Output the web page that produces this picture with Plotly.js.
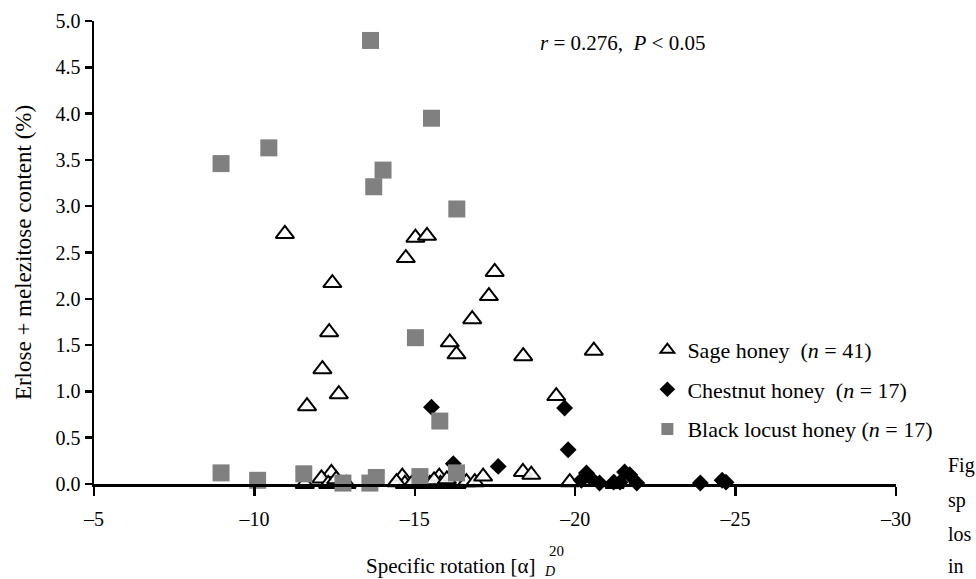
<!DOCTYPE html>
<html>
<head>
<meta charset="utf-8">
<script src="https://cdn.plot.ly/plotly-3.0.1.min.js"></script>
<style>html,body{margin:0;padding:0;background:#fff;}#chart{width:976px;height:579px;}</style>
</head>
<body>
<div id="chart"></div>
<script>
// Sage honey (open triangles)
const sageX = [-10.95, -15.02, -15.38, -14.72, -17.49, -12.43, -17.31, -12.33, -16.79, -16.09,
               -16.30, -18.38, -20.58, -12.12, -12.63, -11.64, -19.41,
               -12.40, -12.09, -11.57, -12.30, -12.87, -14.61, -14.69, -15.47, -15.76,
               -15.80, -16.30, -16.61, -16.87, -17.13, -14.43, -18.37, -18.63, -19.83,
               -21.23, -12.55, -15.00, -15.60, -16.00, -14.90];
const sageY = [2.70, 2.66, 2.68, 2.44, 2.29, 2.17, 2.03, 1.64, 1.78, 1.53,
               1.40, 1.38, 1.44, 1.24, 0.97, 0.84, 0.95,
               0.12, 0.06, 0.00, 0.00, 0.00, 0.08, 0.00, 0.00, 0.08,
               0.00, 0.00, 0.02, 0.02, 0.08, 0.02, 0.13, 0.10, 0.02,
               0.00, 0.05, 0.02, 0.04, 0.05, 0.00];
// Chestnut honey (black diamonds)
const chestX = [-15.52, -19.67, -19.78, -16.20, -17.60, -20.35, -20.19, -20.76, -21.54,
                -21.40, -21.92, -23.90, -24.58, -20.50, -21.20, -21.70, -24.70];
const chestY = [0.83, 0.82, 0.37, 0.22, 0.19, 0.12, 0.04, 0.01, 0.13,
                0.02, 0.01, 0.01, 0.04, 0.06, 0.02, 0.10, 0.02];
// Black locust honey (grey squares)
const locustX = [-13.62, -8.96, -10.45, -14.01, -13.72, -15.52, -16.31, -15.02, -15.78,
                 -8.96, -10.10, -11.54, -12.76, -13.60, -13.80, -15.16, -16.30];
const locustY = [4.79, 3.46, 3.63, 3.39, 3.21, 3.95, 2.97, 1.58, 0.68,
                 0.12, 0.04, 0.11, 0.01, 0.01, 0.07, 0.08, 0.12];

const xTicks = [-5, -10, -15, -20, -25, -30];
const xTickText = ['\u20135', '\u201310', '\u201315', '\u201320', '\u201325', '\u201330'];
const yTicks = [0, 0.5, 1, 1.5, 2, 2.5, 3, 3.5, 4, 4.5, 5];

const serif = 'Liberation Serif, DejaVu Serif, serif';

const traces = [
  {x: sageX, y: sageY, type: 'scatter', mode: 'markers', name: 'Sage honey  (<i>n</i> = 41)',
   legendgroup: 'a', cliponaxis: false,
   marker: {symbol: 'triangle-up', size: 16, color: 'rgba(255,255,255,0.9)', line: {color: '#000', width: 2}}},
  {x: chestX, y: chestY, type: 'scatter', mode: 'markers', name: 'Chestnut honey  (<i>n</i> = 17)',
   legendgroup: 'b', cliponaxis: false,
   marker: {symbol: 'diamond', size: 13, color: '#000', line: {width: 0}}},
  {x: locustX, y: locustY, type: 'scatter', mode: 'markers', name: 'Black locust honey (<i>n</i> = 17)',
   legendgroup: 'c', cliponaxis: false,
   marker: {symbol: 'square', size: 17, color: '#808080', line: {width: 0}}}
];

const layout = {
  width: 976, height: 579,
  margin: {l: 94, r: 80, t: 21, b: 95},
  paper_bgcolor: '#fff', plot_bgcolor: '#fff',
  font: {family: serif, size: 19, color: '#000'},
  showlegend: true,
  legend: {x: 0.69, y: 0.335, xanchor: 'left', yanchor: 'top', bgcolor: 'rgba(0,0,0,0)',
           font: {family: serif, size: 22, color: '#000'}, traceorder: 'grouped',
           tracegroupgap: 8, itemsizing: 'constant', itemwidth: 30},
  xaxis: {range: [-5, -30], tickvals: xTicks, ticktext: xTickText, showgrid: false, zeroline: false,
          showline: true, linecolor: '#000', linewidth: 2.5, ticks: 'outside', ticklen: 9,
          tickwidth: 2.5, tickcolor: '#000', tickfont: {family: serif, size: 20},
          ticklabelstandoff: 6, fixedrange: true},
  yaxis: {range: [0, 5], tickvals: yTicks, tickformat: '.1f', showgrid: false, zeroline: false,
          showline: true, linecolor: '#000', linewidth: 2.5, ticks: 'outside', ticklen: 7,
          tickwidth: 2.5, tickcolor: '#000', tickfont: {family: serif, size: 20},
          title: {text: 'Erlose + melezitose content (%)', font: {family: serif, size: 23}, standoff: 18}},
  annotations: [
    {xref: 'paper', yref: 'paper', x: (538 - 94) / 802, y: 0.952, xanchor: 'left', yanchor: 'middle', showarrow: false,
     text: '<i>r</i> = 0.276,  <i>P</i> < 0.05', font: {family: serif, size: 21}},
    {xref: 'paper', yref: 'paper', x: (451 - 94) / 802, y: -0.177, xanchor: 'center', yanchor: 'middle', showarrow: false,
     text: 'Specific rotation [α]', font: {family: serif, size: 21}},
    {xref: 'paper', yref: 'paper', x: (556 - 94) / 802, y: -0.145, xanchor: 'center', yanchor: 'middle', showarrow: false,
     text: '20', font: {family: serif, size: 15}},
    {xref: 'paper', yref: 'paper', x: (549 - 94) / 802, y: -0.19, xanchor: 'center', yanchor: 'middle', showarrow: false,
     text: '<i>D</i>', font: {family: serif, size: 14}},
    {xref: 'paper', yref: 'paper', x: (946 - 94) / 802, y: (484 - 465) / 463, xanchor: 'left', yanchor: 'middle', showarrow: false,
     text: 'Fig', font: {family: serif, size: 20}},
    {xref: 'paper', yref: 'paper', x: (946 - 94) / 802, y: (484 - 500) / 463, xanchor: 'left', yanchor: 'middle', showarrow: false,
     text: 'sp', font: {family: serif, size: 20}},
    {xref: 'paper', yref: 'paper', x: (946 - 94) / 802, y: (484 - 534) / 463, xanchor: 'left', yanchor: 'middle', showarrow: false,
     text: 'los', font: {family: serif, size: 20}},
    {xref: 'paper', yref: 'paper', x: (946 - 94) / 802, y: (484 - 566) / 463, xanchor: 'left', yanchor: 'middle', showarrow: false,
     text: 'in', font: {family: serif, size: 20}}
  ]
};

Plotly.newPlot('chart', traces, layout, {displayModeBar: false, staticPlot: true});
</script>
</body>
</html>
